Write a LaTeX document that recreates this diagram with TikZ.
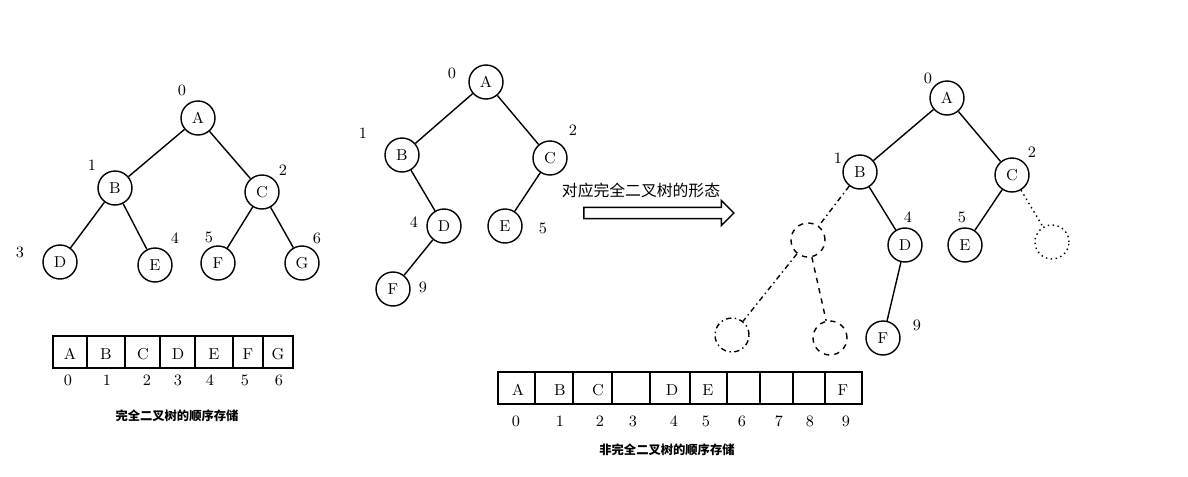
\documentclass[tikz,border=0pt]{standalone}
\usepackage{fontspec}
\newfontfamily\cjk{Noto Sans CJK SC}
\usetikzlibrary{shapes.arrows}
\tikzset{
  vert/.style={circle, draw, thick, minimum size=0.68cm, inner sep=0pt, font=\small},
  ghost/.style={circle, draw, thick, minimum size=0.68cm, inner sep=0pt},
  idx/.style={font=\small},
  caption/.style={font=\cjk\bfseries\scriptsize},
  edge/.style={thick}
}
\begin{document}
\begin{tikzpicture}[x=0.02cm, y=-0.02cm]
  \useasboundingbox (0,0) rectangle (1188,477);
  % first tree
  \node[vert] (a1) at (198,118) {A};
  \node[vert] (b1) at (115,188) {B};
  \node[vert] (c1) at (262,192) {C};
  \node[vert] (d1) at (60,262) {D};
  \node[vert] (e1) at (155,265) {E};
  \node[vert] (f1) at (218,263) {F};
  \node[vert] (g1) at (302,263) {G};
  \draw[edge] (a1) -- (b1); \draw[edge] (a1) -- (c1);
  \draw[edge] (b1) -- (d1); \draw[edge] (b1) -- (e1);
  \draw[edge] (c1) -- (f1); \draw[edge] (c1) -- (g1);
  \foreach \t/\x/\y in {0/182/90, 1/92/165, 2/283/170, 3/20/252, 4/175/238, 5/209/237, 6/317/238}
    \node[idx] at (\x,\y) {\t};
  % first array
  \draw[thick] (53,336) rectangle (293,368);
  \foreach \x in {87,125,160,195,233,263} \draw[thick] (\x,336) -- (\x,368);
  \foreach \t/\x in {A/70,B/106,C/143,D/178,E/214,F/248,G/278}
    \node[font=\small] at (\x,354) {\t};
  \foreach \t/\x in {0/68,1/107,2/147,3/178,4/210,5/245,6/279}
    \node[idx] at (\x,380) {\t};
  \node[caption] at (177,416) {完全二叉树的顺序存储};
  % second tree
  \node[vert] (a2) at (486,82) {A};
  \node[vert] (b2) at (402,155) {B};
  \node[vert] (c2) at (550,158) {C};
  \node[vert] (d2) at (444,226) {D};
  \node[vert] (e2) at (505,226) {E};
  \node[vert] (f2) at (393,289) {F};
  \draw[edge] (a2) -- (b2); \draw[edge] (a2) -- (c2);
  \draw[edge] (b2) -- (d2); \draw[edge] (c2) -- (e2);
  \draw[edge] (d2) -- (f2);
  \foreach \t/\x/\y in {0/452/73, 1/363/133, 2/573/130, 4/414/222, 5/543/228, 9/423/287}
    \node[idx] at (\x,\y) {\t};
  % arrow
  \node[font=\cjk\small] (txt) at (641,190) {对应完全二叉树的形态};
  \node[single arrow, draw, thick, minimum width=0.5cm, single arrow head extend=0.06cm,
        minimum height=3cm, inner sep=1pt] (arr) at (656,213) {};
  % third tree
  \node[vert] (a3) at (947,98) {A};
  \node[vert] (b3) at (860,172) {B};
  \node[vert] (c3) at (1012,175) {C};
  \node[ghost, dashed] (x3) at (808,240) {};
  \node[vert] (d3) at (905,245) {D};
  \node[vert] (e3) at (965,245) {E};
  \node[ghost, dotted] (y3) at (1052,242) {};
  \node[ghost, dash dot] (p3) at (732,335) {};
  \node[ghost, dashed] (q3) at (830,338) {};
  \node[vert] (f3) at (883,338) {F};
  \draw[edge] (a3) -- (b3); \draw[edge] (a3) -- (c3);
  \draw[edge, dash dot] (b3) -- (x3); \draw[edge] (b3) -- (d3);
  \draw[edge] (c3) -- (e3); \draw[edge, dotted] (c3) -- (y3);
  \draw[edge, dash dot] (x3) -- (p3); \draw[edge, dashed] (x3) -- (q3);
  \draw[edge] (d3) -- (f3);
  \foreach \t/\x/\y in {0/928/78, 1/838/158, 2/1032/152, 4/908/217, 5/962/217, 9/917/325}
    \node[idx] at (\x,\y) {\t};
  % second array
  \draw[thick] (498,372) rectangle (862,404);
  \foreach \x in {535,573,612,650,690,727,760,793,825} \draw[thick] (\x,372) -- (\x,404);
  \foreach \t/\x in {A/518,B/560,C/598,D/672,E/708,F/843}
    \node[font=\small] at (\x,390) {\t};
  \foreach \t/\x in {0/516,1/560,2/600,3/633,4/674,5/706,6/742,7/779,8/810,9/846}
    \node[idx] at (\x,421) {\t};
  \node[caption] at (667,450) {非完全二叉树的顺序存储};
\end{tikzpicture}
\end{document}
